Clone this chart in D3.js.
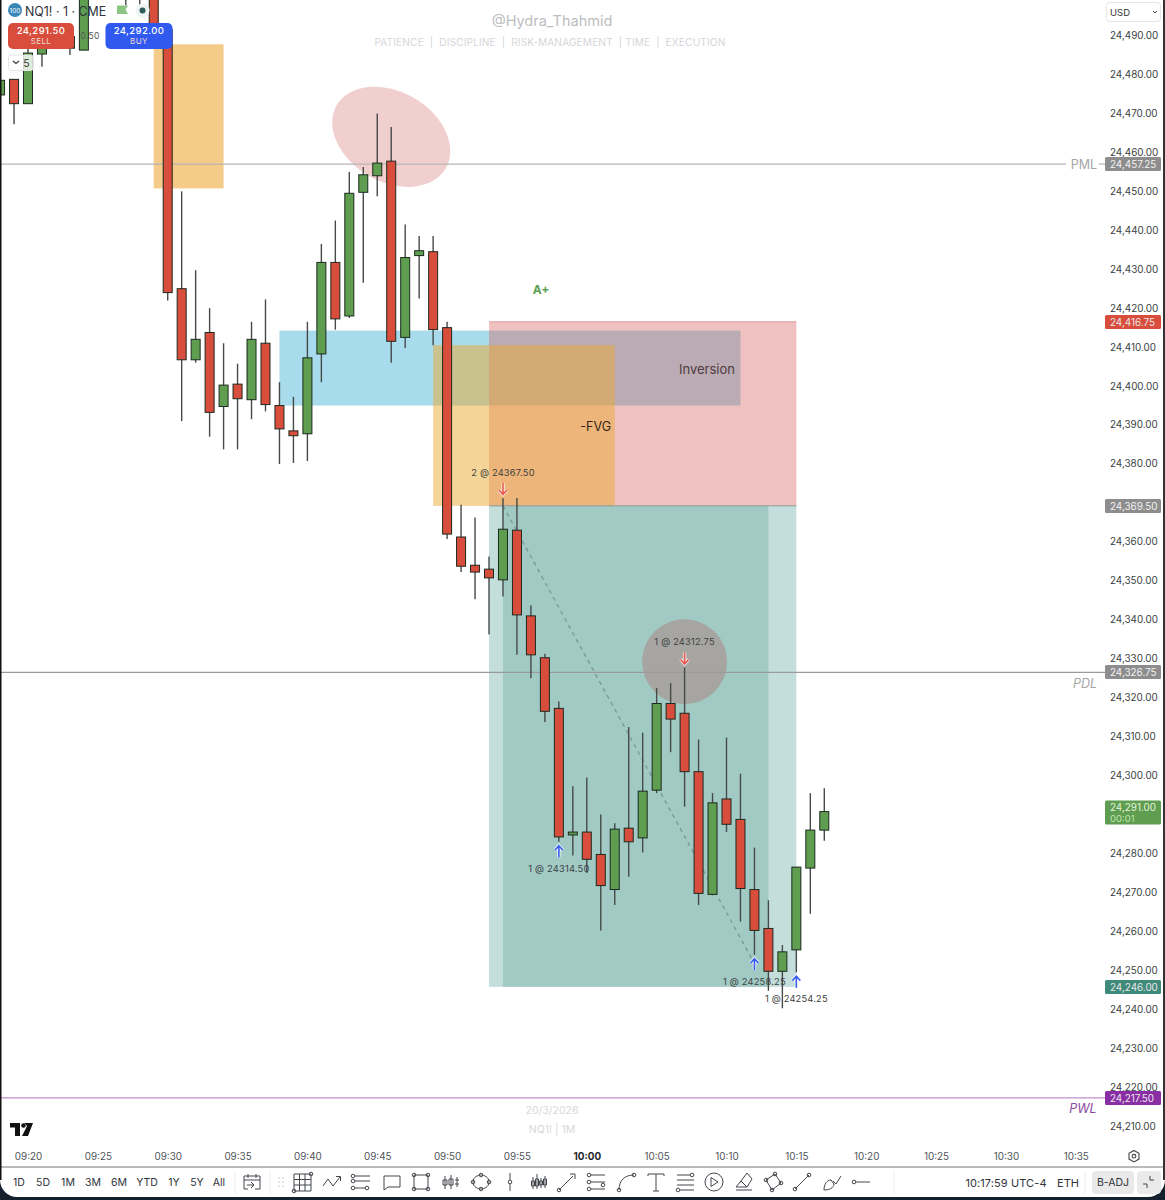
<!DOCTYPE html>
<html><head><meta charset="utf-8">
<script src="https://cdnjs.cloudflare.com/ajax/libs/d3/7.8.5/d3.min.js"></script>
<style>html,body{margin:0;padding:0;background:#fff}svg{display:block}text{font-family:Inter,"Noto Sans",sans-serif}</style>
</head><body><svg id="c" width="1165" height="1200"></svg>
<script>
// ---------- data ----------
const candleTimes=["09:18","09:19","09:20","09:21","09:22","09:23","09:24","09:27","09:28","09:29",
"09:30","09:31","09:32","09:33","09:34","09:35","09:36","09:37","09:38","09:39",
"09:40","09:41","09:42","09:43","09:44","09:45","09:46","09:47","09:48","09:49",
"09:50","09:51","09:52","09:53","09:54","09:55","09:56","09:57","09:58","09:59",
"10:00","10:01","10:02","10:03","10:04","10:05","10:06","10:07","10:08","10:09",
"10:10","10:11","10:12","10:13","10:14","10:15","10:16","10:17"];
const opens=[24475,24479,24472.75,24485.5,24489,24490,24486.5,24505,24508,24510,
24491.75,24425.25,24407,24414,24395,24400.75,24396.75,24411.25,24395.25,24388.75,
24388,24408.5,24432,24418.25,24450,24454.25,24458,24412.75,24433.75,24434.75,
24415.25,24361.5,24354.25,24353.25,24350.5,24363.25,24341.25,24330.5,24317.5,24285,
24285.75,24280,24271,24286.75,24284.25,24296.5,24318.75,24316.25,24301.25,24269.75,
24294.25,24289,24271,24261,24250,24255.5,24276.5,24286.25];
const highs=[24478.75,24479,24489,24490,24490,24490.5,24510,24515,24514,24512,
24493,24450.25,24430,24420.25,24411.25,24406,24416.75,24422.5,24401.25,24397.5,
24416.75,24436.75,24442.75,24455.25,24456.5,24470.25,24466.75,24441.75,24438.75,24438.75,
24416.75,24369.75,24366.5,24356.5,24371.5,24371.5,24344,24331.5,24319.25,24297.5,
24299.75,24290.25,24288,24312.75,24311.25,24322.75,24324,24328,24309.5,24295.75,
24310,24300.75,24281.75,24268.25,24256.75,24276.75,24295.75,24297];
const lows=[24475,24467.5,24472.75,24482.25,24487,24485.25,24486.5,24498,24495.75,24491,
24422.25,24391.25,24406.25,24387.25,24384,24384,24391.75,24393.75,24380.25,24380.5,
24381,24401.25,24414.75,24417.75,24426.75,24449,24406.25,24410,24422.75,24410.75,
24361,24352.5,24345.5,24336.5,24346.25,24331.25,24325.25,24314,24283.25,24279.75,
24275.25,24260.5,24267,24274.25,24280.5,24295.75,24306.25,24292.25,24267,24269.5,
24285.75,24262.75,24254.25,24245,24240.5,24249.75,24264.75,24283.5];
const closes=[24478.75,24472.75,24485.75,24488,24487,24487,24505,24510,24510,24491.75,
24424.25,24407,24412.25,24393.5,24400.5,24397,24412.25,24395.5,24389.25,24387.5,
24407.5,24432,24417.5,24449.75,24454.5,24457.5,24411.75,24433.25,24435,24414.75,
24362.25,24354,24352.5,24351,24363.5,24341.5,24331.25,24316.75,24284.5,24285.75,
24278.75,24272,24286.5,24283.25,24296.25,24318.75,24314.75,24301.25,24270,24293.25,
24287.75,24271.25,24260.5,24250,24255,24276.75,24286.25,24291];

const priceTicks=[24490,24480,24470,24460,24450,24440,24430,24420,24410,24400,24390,24380,24360,24350,24340,24330,24320,24310,24300,24280,24270,24260,24250,24240,24230,24220,24210];
const timeTicks=["09:20","09:25","09:30","09:35","09:40","09:45","09:50","09:55","10:00","10:05","10:10","10:15","10:20","10:25","10:30","10:35"];

const levelNames=["PML","PDL","PWL"];
const levelPrices=[24457.25,24326.75,24217.5];
const zoneNames=["orange","blue","pink","fvg","tealOuter","tealInner"];
const zoneStart=["09:29","09:38","09:53","09:49","09:53","09:54"];
const zoneEnd=["09:34","10:11","10:15","10:02","10:15","10:13"];
const zoneTop=[24488,24414.5,24416.75,24410.75,24369.5,24369.5];
const zoneBottom=[24451,24395.25,24369.5,24369.5,24246,24246];

const execTimes=["09:54","10:07","09:58","10:12","10:15"];
const execPrices=[24367.5,24312.75,24314.5,24258.25,24254.25];
const execQty=[2,1,1,1,1];
const execSide=["sell","sell","buy","buy","buy"];

const axisLabelPrices=[24457.25,24416.75,24369.5,24326.75,24246,24217.5];
const axisLabelKinds=["grey","red","grey","grey","teal","purple"];
const lastPrice=24291;
const rangeButtons=["1D","5D","1M","3M","6M","YTD","1Y","5Y","All"];
const watermark=["@Hydra_Thahmid","PATIENCE  |  DISCIPLINE  |  RISK-MANAGEMENT  | TIME  |  EXECUTION"];

// ---------- styling (not data) ----------
const col={up:"#5f9e50",down:"#d84d3b",stroke:"#1d2a1f",wick:"#454a48",
 grey:"#8d8d8d",red:"#d84d3b",teal:"#3f8b7b",purple:"#8a2ea6"};
const zoneFill={orange:"rgba(236,160,40,.55)",pink:"rgba(215,100,100,.4)",blue:"rgba(110,195,222,.6)",
 fvg:"rgba(235,170,50,.5)",tealOuter:"rgba(60,150,135,.3)",tealInner:"rgba(60,140,130,.25)"};
const axisFont=9.9;

const toMin=s=>{const [h,m]=s.split(":").map(Number);return h*60+m;};
const x=d3.scaleLinear().domain([toMin("09:20"),toMin("10:35")]).range([28,1075.75]);
const y=d3.scaleLinear().domain([24490,24210]).range([36.5,1127.1]);
const svg=d3.select("#c");

// frame
svg.append("rect").attr("width",1165).attr("height",1200).attr("fill","#14202e");
svg.append("rect").attr("x",0).attr("y",-40).attr("width",1165).attr("height",1237).attr("rx",17).attr("fill","#fff");

const plot=svg.append("g");
// zones in stacking order
zoneNames.forEach((n,i)=>{
 plot.append("rect").attr("x",x(toMin(zoneStart[i]))).attr("width",x(toMin(zoneEnd[i]))-x(toMin(zoneStart[i])))
  .attr("y",y(zoneTop[i])).attr("height",y(zoneBottom[i])-y(zoneTop[i])).attr("fill",zoneFill[n]);
});
// pink top edge, entry line
plot.append("line").attr("x1",x(toMin("09:53"))).attr("x2",x(toMin("10:15"))).attr("y1",y(24416.75)).attr("y2",y(24416.75)).attr("stroke","#e49a9a").attr("stroke-width",1);
plot.append("line").attr("x1",x(toMin("09:53"))).attr("x2",x(toMin("10:15"))).attr("y1",y(24369.5)).attr("y2",y(24369.5)).attr("stroke","#8f9b98").attr("stroke-width",1);
// ellipses
plot.append("ellipse").attr("rx",63).attr("ry",45)
 .attr("transform",`translate(${x(toMin("09:46"))},${y(24464.25)}) rotate(30)`).attr("fill","rgba(222,140,140,.42)");
plot.append("circle").attr("cx",x(toMin("10:07"))).attr("cy",y(24329.5)).attr("r",42.5).attr("fill","#a6a5a1");
// level lines
const levelCol={PML:"#b5b5b5",PDL:"#9a9a9a",PWL:"#c48fcf"};
levelNames.forEach((n,i)=>{
 plot.append("line").attr("x1",0).attr("x2",n==="PML"?1066:1105).attr("y1",y(levelPrices[i])).attr("y2",y(levelPrices[i])).attr("stroke",levelCol[n]).attr("stroke-width",1.2);
});
plot.append("line").attr("x1",1099).attr("x2",1105).attr("y1",y(24457.25)).attr("y2",y(24457.25)).attr("stroke","#b5b5b5").attr("stroke-width",1.2);
// trade path
plot.append("line").attr("x1",x(toMin("09:54"))).attr("y1",y(24369.5)).attr("x2",x(toMin("10:12"))).attr("y2",y(24252)).attr("stroke","#7d9a95").attr("stroke-width",1.4).attr("stroke-dasharray","4 4");

// candles
const rows=candleTimes.map((t,i)=>({m:toMin(t),o:opens[i],h:highs[i],l:lows[i],c:closes[i]}));
const cg=plot.selectAll("g.c").data(rows).join("g").attr("class","c").attr("transform",d=>`translate(${x(d.m)},0)`);
cg.append("line").attr("y1",d=>y(d.h)).attr("y2",d=>y(d.l)).attr("stroke",col.wick).attr("stroke-width",1.4);
cg.append("rect").attr("x",-4.5).attr("width",9).attr("y",d=>y(Math.max(d.o,d.c))).attr("height",d=>Math.max(1,Math.abs(y(d.o)-y(d.c))))
 .attr("fill",d=>d.c>=d.o?col.up:col.down).attr("stroke",col.stroke).attr("stroke-width",1);

// executions
execTimes.forEach((t,i)=>{
 const m=toMin(t),r=rows.find(d=>d.m===m),sell=execSide[i]==="sell",cx=x(m);
 const ay=sell?y(r.h)-9:y(r.l)+9.5, ty=sell?ay-17:ay+17;
 const c=sell?"#e8574f":"#3a5cf0";
 const g=plot.append("g").attr("transform",`translate(${cx},${ay})`);
 const p=sell?"M0,-6V5M-4,1L0,5.5L4,1":"M0,6V-5M-4,-1L0,-5.5L4,-1";
 g.append("path").attr("d",p).attr("fill","none").attr("stroke","#fff").attr("stroke-width",3.4).attr("opacity",.75);
 g.append("path").attr("d",p).attr("fill","none").attr("stroke",c).attr("stroke-width",1.6);
 plot.append("text").attr("x",cx).attr("y",ty).attr("text-anchor","middle").attr("dominant-baseline","central")
  .attr("font-size",9.3).attr("letter-spacing",".2").attr("fill","#3d4241").text(`${execQty[i]} @ ${execPrices[i].toFixed(2)}`);
});

// text annotations
const note=(s,tx,ty,o)=>plot.append("text").attr("x",tx).attr("y",ty).attr("dominant-baseline","central")
 .attr("text-anchor",o.a||"start").attr("font-size",o.s).attr("fill",o.f).attr("font-weight",o.w||400).attr("font-style",o.i||"normal").attr("letter-spacing",o.l||0).text(s);
note("A+",541,289,{a:"middle",s:12,f:"#5d9f52",w:700});
note("Inversion",735,369,{a:"end",s:13,f:"#4f3b3d"});
note("-FVG",611,426,{a:"end",s:12.5,f:"#33271c"});
note("PML",1084,164,{a:"middle",s:12.5,f:"#a5a5a5"});
note("PDL",1085,683,{a:"middle",s:12.5,f:"#a5a5a5",i:"italic"});
note("PWL",1083,1108,{a:"middle",s:12.5,f:"#8a4aa0",i:"italic"});
note(watermark[0],552,20,{a:"middle",s:14.5,f:"#bdbdc0"});
note(watermark[1].replace(/ /g,"\u00a0"),550,42,{a:"middle",s:10.2,f:"#d6d6d8",l:".1"});
note("20/3/2026",552,1110,{a:"middle",s:10.5,f:"#d8d8d8"});
note("NQ1! | 1M",552,1129,{a:"middle",s:10.5,f:"#d8d8d8"});

// price axis
const yAxis=d3.axisRight(y).tickValues(priceTicks).tickSize(0).tickPadding(0).tickFormat(d3.format(",.2f"));
const ya=svg.append("g").attr("transform","translate(1110,-1.5)").call(yAxis);
ya.select(".domain").remove();
ya.selectAll("text").attr("font-family","Inter,sans-serif").attr("font-size",axisFont).attr("fill","#3a3f44").attr("dy",".35em");

// price tags
const tag=(v,kind)=>{
 const yy=Math.round(y(v));
 svg.append("rect").attr("x",1105).attr("y",yy-7).attr("width",56).attr("height",14).attr("rx",1.5).attr("fill",col[kind]);
 svg.append("text").attr("x",1110).attr("y",yy).attr("dominant-baseline","central").attr("font-size",axisFont).attr("fill",kind==="grey"?"#f2f2f2":"#e9e6e8").text(d3.format(",.2f")(v));
};
axisLabelPrices.forEach((v,i)=>tag(v,axisLabelKinds[i]));
const ly=y(lastPrice);
svg.append("rect").attr("x",1105).attr("y",ly-11).attr("width",56).attr("height",24).attr("rx",1.5).attr("fill",col.up);
svg.append("text").attr("x",1110).attr("y",ly-4.5).attr("dominant-baseline","central").attr("font-size",axisFont).attr("fill","#e3f2dc").text(d3.format(",.2f")(lastPrice));
svg.append("text").attr("x",1110).attr("y",ly+6.5).attr("dominant-baseline","central").attr("font-size",9.5).attr("fill","#bfe3ae").text("00:01");

// USD box
svg.append("rect").attr("x",1106.5).attr("y",2.5).attr("width",54).attr("height",19).attr("rx",3).attr("fill","#fff").attr("stroke","#e6e6e6");
svg.append("text").attr("x",1110).attr("y",12).attr("dominant-baseline","central").attr("font-size",9.5).attr("fill","#333").text("USD");
svg.append("path").attr("d","M1153,11l2,2l2,-2").attr("fill","none").attr("stroke","#444");

// header legend
svg.append("circle").attr("cx",15).attr("cy",10).attr("r",7).attr("fill","#3a87b8");
svg.append("text").attr("x",15).attr("y",10.5).attr("text-anchor","middle").attr("dominant-baseline","central").attr("font-size",6.5).attr("fill","#fff").text("100");
svg.append("text").attr("x",25).attr("y",11).attr("dominant-baseline","central").attr("font-size",12.4).attr("fill","#30343a").text("NQ1! · 1 · CME");
svg.append("path").attr("d","M117,5.5H128L125.5,9.5L128,14H117Z").attr("fill","#8cc583");
svg.append("circle").attr("cx",142.5).attr("cy",10.5).attr("r",7).attr("fill","#eef3f3");
svg.append("circle").attr("cx",142.5).attr("cy",10.5).attr("r",3).attr("fill","#2f5b5b");
const btn=(bx,w,c,a,b)=>{
 svg.append("rect").attr("x",bx).attr("y",23).attr("width",w).attr("height",26).attr("rx",5).attr("fill",c);
 svg.append("text").attr("x",bx+w/2).attr("y",30.5).attr("text-anchor","middle").attr("dominant-baseline","central").attr("font-size",9.5).attr("letter-spacing",".4").attr("font-weight",500).attr("fill","#fff").text(a);
 svg.append("text").attr("x",bx+w/2).attr("y",41).attr("text-anchor","middle").attr("dominant-baseline","central").attr("font-size",8).attr("letter-spacing",".4").attr("fill","#f3dcd8").text(b);
};
btn(8,66,"#d84d3b","24,291.50","SELL");
btn(105.5,67,"#3059ef","24,292.00","BUY");
svg.append("text").attr("x",90).attr("y",36).attr("text-anchor","middle").attr("dominant-baseline","central").attr("font-size",8.5).attr("letter-spacing",".3").attr("fill","#555").text("0.50");
svg.append("rect").attr("x",8.5).attr("y",55).attr("width",25).attr("height",15.5).attr("rx",3).attr("fill","#fff").attr("fill-opacity",.8).attr("stroke","#e4e4e4");
svg.append("path").attr("d","M13,61l3,2.5l3,-2.5").attr("fill","none").attr("stroke","#333").attr("stroke-width",1.1);
svg.append("text").attr("x",26.5).attr("y",63.5).attr("text-anchor","middle").attr("dominant-baseline","central").attr("font-size",10.5).attr("fill","#333").text("5");

// TV logo
svg.append("path").attr("d","M10,1123H20V1136H15V1127.5H10ZM27,1126L22,1136H28L33,1123H24.5Z").attr("fill","#111");
svg.append("circle").attr("cx",23.5).attr("cy",1125.5).attr("r",2.3).attr("fill","#111");

// time axis
const xAxis=d3.axisBottom(x).tickValues(timeTicks.map(toMin)).tickSize(0).tickPadding(0).tickFormat((d,i)=>timeTicks[i]);
const xa=svg.append("g").attr("transform","translate(0,1152.5)").call(xAxis);
xa.select(".domain").remove();
xa.selectAll("text").attr("font-family","Inter,sans-serif").attr("font-size",axisFont).attr("fill","#50555a").attr("font-weight",d=>d===toMin("10:00")?700:400);
xa.selectAll("text").filter(d=>d===toMin("10:00")).attr("fill","#23272b");

// gear
svg.append("path").attr("d","M1134,1150.5l5,2.8v5.8l-5,2.8l-5,-2.8v-5.8Z").attr("fill","none").attr("stroke","#444").attr("stroke-width",1.1);
svg.append("circle").attr("cx",1134).attr("cy",1156.2).attr("r",1.8).attr("fill","none").attr("stroke","#444").attr("stroke-width",1.1);

// bottom toolbar separators
svg.append("line").attr("x1",0).attr("x2",1165).attr("y1",1167).attr("y2",1167).attr("stroke","#777").attr("stroke-width",1.2);
[235,270,894].forEach(sx=>svg.append("line").attr("x1",sx).attr("x2",sx).attr("y1",1172).attr("y2",1194).attr("stroke","#ececec"));
const rangeX=[19,43,68,93,119,147,174,197,219];
rangeButtons.forEach((s,i)=>svg.append("text").attr("x",rangeX[i]).attr("y",1182.5).attr("text-anchor","middle").attr("dominant-baseline","central").attr("font-size",10.5).attr("fill","#30343a").text(s));
svg.append("text").attr("x",1006).attr("y",1182.5).attr("text-anchor","middle").attr("dominant-baseline","central").attr("font-size",11).attr("fill","#30343a").attr("letter-spacing",".1").text("10:17:59 UTC-4");
svg.append("text").attr("x",1068).attr("y",1182.5).attr("text-anchor","middle").attr("dominant-baseline","central").attr("font-size",11).attr("fill","#30343a").text("ETH");
svg.append("line").attr("x1",1085).attr("x2",1085).attr("y1",1172).attr("y2",1194).attr("stroke","#ececec");
svg.append("rect").attr("x",1092).attr("y",1171).attr("width",42).attr("height",23).attr("rx",4).attr("fill","#e9e9e9");
svg.append("text").attr("x",1113).attr("y",1182.5).attr("text-anchor","middle").attr("dominant-baseline","central").attr("font-size",10.5).attr("fill","#30343a").text("B-ADJ");
svg.append("rect").attr("x",1137).attr("y",1171).attr("width",24).attr("height",23).attr("rx",4).attr("fill","#eaeaea");
svg.append("path").attr("d","M1143,1184h4v4M1154,1180h-4v-4").attr("fill","none").attr("stroke","#444");

// toolbar icons (decorative glyphs)
const dot=(a,b)=>`M${a+1.8},${b}a1.8,1.8 0 1,0 -3.6,0a1.8,1.8 0 1,0 3.6,0`;
const icons={
 252:"M-8,-6H8V7H3M-8,-6V7H-4M-8,-2H8M-4,-8V-4M4,-8V-4M-5,3H2M-1,0L2,3L-1,6",
 303:"M-9,-8H8V9H-9ZM-9,-2.5H8M-9,3H8M-3.5,-8V9M2,-8V9"+dot(-9,9)+dot(8,-8),
 332:"M-9,4L-4,-3L1,4L8,-5M4,-5.5H8.5V-1",
 361:"M-6,-6H9M-6,-1H9M-6,6H4"+dot(-8,-6)+dot(-8,-1)+dot(-8,6)+dot(6,6),
 392:"M-8,-6H8V5H-4L-8,8Z",
 421:"M-7,-7H7V7H-7Z"+dot(-7,-7)+dot(7,-7)+dot(-7,7)+dot(7,7),
 451:"M-6,-6V7M-8,-2h4v5h-4ZM0,-7V7M-2,-3h4v6h-4ZM6,-5V5M4,-2h4M4,2h4",
 481:"M-8,0C-8,-5 -3,-7 0,-7C3,-7 8,-5 8,0C8,5 3,7 0,7C-3,7 -8,5 -8,0Z"+dot(-8,0)+dot(8,0)+dot(0,-7)+dot(0,7),
 510:"M0,-9V-2M0,2V9"+dot(0,0),
 539:"M-6,-5V7M-7.5,-1h3v5h-3ZM-2,-8V7M-3.5,-3h3v7h-3ZM2,-4V6M0.5,-1h3v4h-3ZM6,-6V6M4.5,-3h3v6h-3Z",
 567:"M-8,8L6,-6"+dot(-8,8)+"M3,-8H8V-3",
 597:"M-6,-7H8M-6,0H8M-6,7H8"+dot(-8,-7)+dot(-8,0)+dot(-8,7)+dot(6,3),
 627:"M-8,8C-8,-2 -2,-7 7,-7"+dot(-8,8)+dot(7,-7),
 656:"M-8,-6V-8H8V-6M0,-8V9M-3,9H3",
 685:"M-8,-7H5M-8,-2H9M-8,3H9M-5,8H9"+dot(7,-7)+dot(-7,8),
 714:"M9,0A9,9 0 1,1 -9,0A9,9 0 1,1 9,0ZM-3,-4.5L4,0L-3,4.5Z",
 744:"M-8,8H8M-8,5L-3,-1L3,5ZM-3,-1L3,-9L8,-3L3,5",
 773:"M-7,-2L2,-8L8,1L-1,8Z"+dot(-7,-2)+dot(2,-8)+dot(8,1)+dot(-1,8),
 802:"M-7,7L7,-7"+dot(-7,7)+dot(7,-7),
 832:"M-8,8C-8,2 -5,-2 -1,-2L2,2C2,6 -3,8 -8,8ZM1,-1L4,2L9,-6",
 861:"M-5,0H9"+dot(-7,0)
};
Object.keys(icons).forEach(k=>{
 svg.append("path").attr("transform",`translate(${k},1182)`).attr("d",icons[k]).attr("fill","none").attr("stroke","#43474c").attr("stroke-width",1);
});
[[279,1178],[283,1178],[279,1182],[283,1182],[279,1186],[283,1186]].forEach(p=>svg.append("circle").attr("cx",p[0]).attr("cy",p[1]).attr("r",1).attr("fill","#dcdcdc"));

// frame edges on top
svg.append("rect").attr("x",0).attr("y",0).attr("width",1.5).attr("height",1180).attr("fill","#111");
svg.append("rect").attr("x",1163).attr("y",0).attr("width",2).attr("height",1180).attr("fill","#333");
</script></body></html>
